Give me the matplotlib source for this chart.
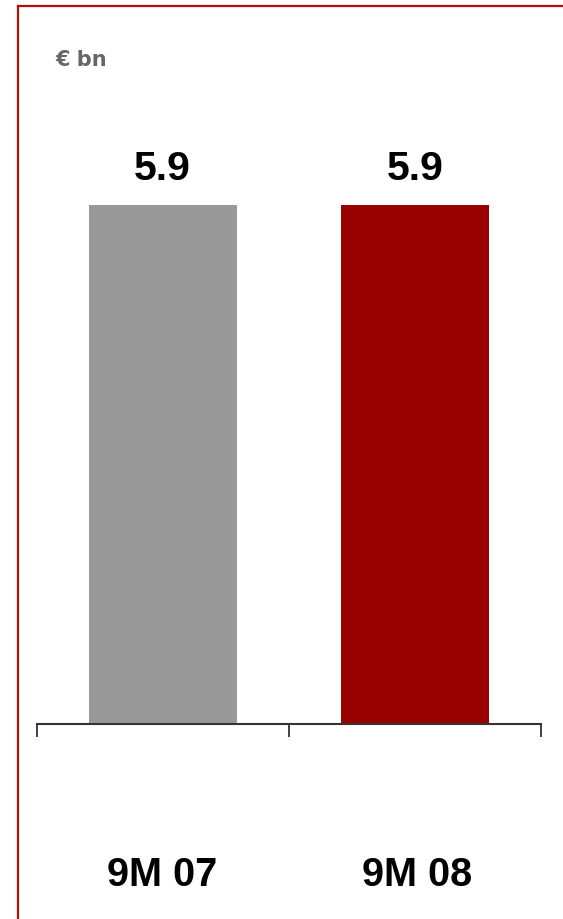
import matplotlib
matplotlib.use("Agg")
import matplotlib.pyplot as plt
from matplotlib.lines import Line2D

categories = ["9M 07", "9M 08"]
values = [5.9, 5.9]
value_labels = ["5.9", "5.9"]
unit_label = "€ bn"

bar_colors = ["#999999", "#990000"]
W, H = 563, 919
DPI = 100
plt.rcParams['font.family'] = ['Liberation Sans', 'DejaVu Sans']

fig = plt.figure(figsize=(W / DPI, H / DPI), dpi=DPI)
fig.patch.set_facecolor("white")

# axes placement in pixels
left_px, right_px, base_px, top_px = 37, 541, 724, 100
ax = fig.add_axes([left_px / W, (H - base_px) / H, (right_px - left_px) / W, (base_px - top_px) / H])

x = list(range(len(categories)))
ax.bar(x, values, width=0.59, color=bar_colors, zorder=2)
ax.set_xlim(-0.5, len(categories) - 0.5)
ax.set_ylim(0, 7.09)

for s in ["top", "right", "left"]:
    ax.spines[s].set_visible(False)
ax.spines["bottom"].set_color("#333333")
ax.spines["bottom"].set_linewidth(1.5)
ax.set_yticks([])
ax.set_xticks([i - 0.5 for i in range(len(categories) + 1)])
ax.set_xticklabels([])
ax.tick_params(axis="x", direction="out", length=9, width=1.2, color="#222222")

val_dx = [-1, 0]
cat_dx = [-1, 2]
for i, (v, lab) in enumerate(zip(values, value_labels)):
    ax.annotate(lab, xy=(i, v), xytext=(val_dx[i] * 72 / DPI, 25 * 72 / DPI), textcoords="offset points",
                ha="center", va="baseline", fontsize=29.5, fontweight="bold", color="black")
for i, c in enumerate(categories):
    ax.annotate(c, xy=(i, 0), xycoords=("data", "axes fraction"),
                xytext=(cat_dx[i] * 72 / DPI, -(886.5 - base_px) * 72 / DPI), textcoords="offset points",
                ha="center", va="baseline", fontsize=28.5, fontweight="bold", color="black")

fig.text(55 / W, 1 - 66.5 / H, unit_label, ha="left", va="baseline", fontsize=15,
         fontweight="bold", color="#666666", family=["DejaVu Sans"])

# frame lines (top and left)
border = "#B01010"
fig.add_artist(Line2D([18 / W, 1.0], [1 - 6 / H, 1 - 6 / H], transform=fig.transFigure, color=border, lw=1.6))
fig.add_artist(Line2D([18 / W, 18 / W], [1 - 6 / H, 0.0], transform=fig.transFigure, color=border, lw=1.6))

fig.savefig("out.png", dpi=DPI, facecolor="white")
